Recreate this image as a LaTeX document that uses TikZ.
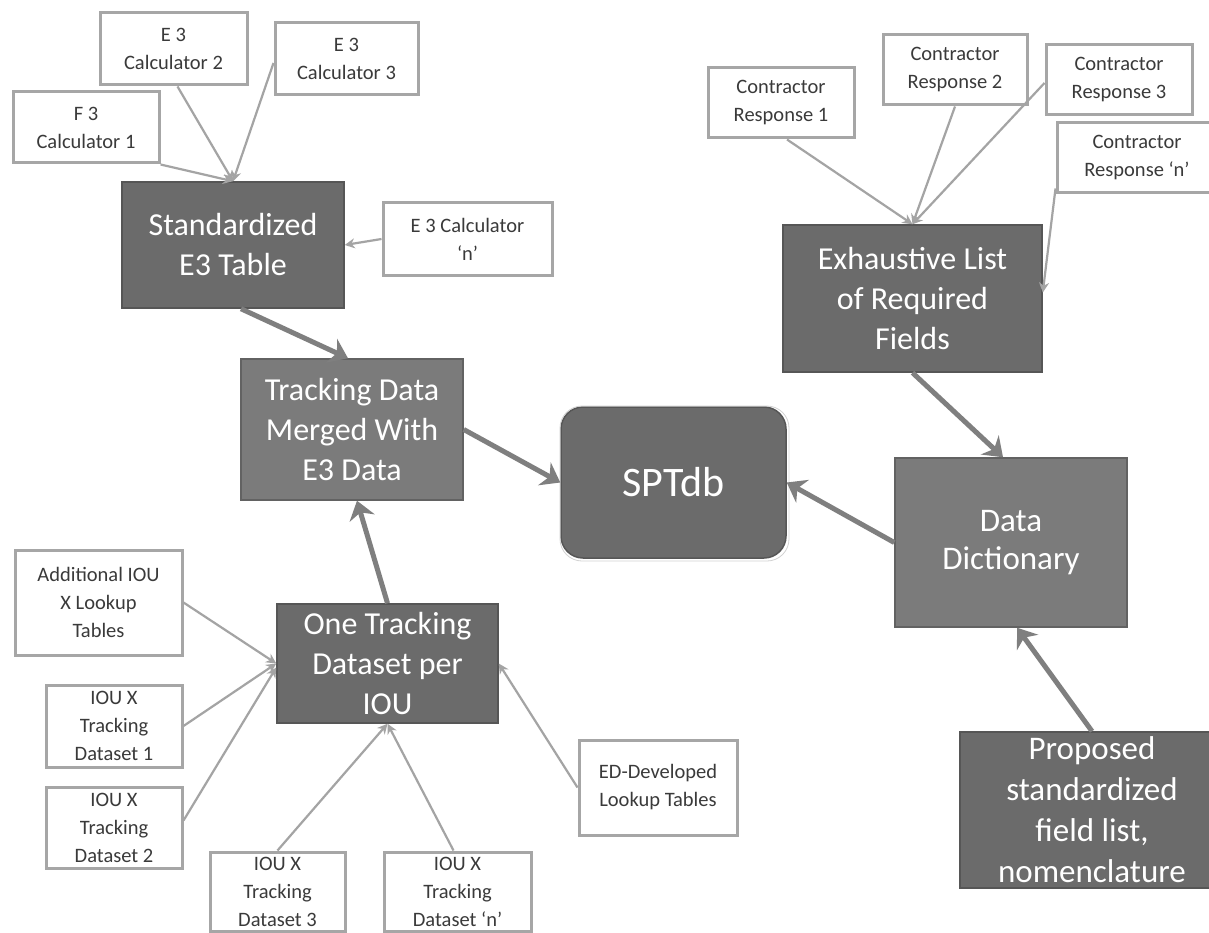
\documentclass[tikz,border=0pt]{standalone}
\usepackage{fontspec}
\setmainfont{Carlito}
\usetikzlibrary{arrows.meta}
\definecolor{darkfill}{HTML}{6B6B6B}
\definecolor{midfill}{HTML}{7B7B7B}
\definecolor{boxline}{HTML}{A6A6A6}
\definecolor{thinarrow}{HTML}{A4A4A4}
\definecolor{thickarrow}{HTML}{7F7F7F}
\definecolor{txt}{HTML}{3A3A3A}
\tikzset{
  inbox/.style={draw=boxline, line width=3pt, fill=white, text=txt, align=center,
    inner sep=0pt, font=\fontsize{20.5}{28}\selectfont},
  bigbox/.style={draw=darkfill!80!black, line width=1.5pt, fill=darkfill, text=white,
    align=center, inner sep=0pt, font=\fontsize{32}{40}\selectfont},
  midbox/.style={bigbox, fill=midfill, draw=midfill!80!black},
  inarrow/.style={draw=thinarrow, line width=2.2pt, -{Stealth[length=10pt,width=10pt]}},
  mainarrow/.style={draw=thickarrow, line width=5pt, -{Stealth[length=18pt,width=26pt]}}
}
\begin{document}
\begin{tikzpicture}[x=1pt,y=-1pt]
\useasboundingbox (0,0) rectangle (1209,933);
\fill[white] (0,0) rectangle (1209,933);

% E3 calculators
\node[inbox, minimum width=146pt, minimum height=71pt] (calc1) at (86,127.5) {F 3\\Calculator 1};
\node[inbox, minimum width=147pt, minimum height=72pt] (calc2) at (173.5,49) {E 3\\Calculator 2};
\node[inbox, minimum width=143pt, minimum height=72pt] (calc3) at (346.5,59) {E 3\\Calculator 3};
\node[inbox, minimum width=169pt, minimum height=72pt] (calcn) at (467.5,239) {E 3 Calculator\\‘n’};

\node[bigbox, minimum width=222pt, minimum height=126pt] (std) at (233,245) {Standardized\\E3 Table};
\node[midbox, minimum width=222pt, minimum height=141pt] (merged) at (352,429.5) {Tracking Data\\Merged With\\E3 Data};

\node[bigbox, rounded corners=22pt, minimum width=225pt, minimum height=151pt,
      font=\fontsize{42}{50}\selectfont] (spt) at (673.5,482.5) {SPTdb};
\draw[gray!35, line width=0.8pt, rounded corners=22pt] (560,406) rectangle (789,561);

\node[bigbox, minimum width=221pt, minimum height=119pt] (onetrack) at (387.5,663.5) {One Tracking\\Dataset per\\IOU};

\node[inbox, minimum width=167pt, minimum height=105pt] (addl) at (98.5,602.5) {Additional IOU\\X Lookup\\Tables};
\node[inbox, minimum width=136pt, minimum height=82pt] (ds1) at (114,726) {IOU X\\Tracking\\Dataset 1};
\node[inbox, minimum width=136pt, minimum height=81pt] (ds2) at (114,827.5) {IOU X\\Tracking\\Dataset 2};
\node[inbox, minimum width=135pt, minimum height=79pt] (ds3) at (277.5,891.5) {IOU X\\Tracking\\Dataset 3};
\node[inbox, minimum width=147pt, minimum height=79pt] (dsn) at (457.5,891.5) {IOU X\\Tracking\\Dataset ‘n’};
\node[inbox, minimum width=158pt, minimum height=95pt] (ed) at (658,787.5) {ED-Developed\\Lookup Tables};

% contractor responses
\node[inbox, minimum width=146pt, minimum height=70pt] (resp1) at (781,103) {Contractor\\Response 1};
\node[inbox, minimum width=144pt, minimum height=70pt] (resp2) at (955,70) {Contractor\\Response 2};
\node[inbox, minimum width=146pt, minimum height=70pt] (resp3) at (1119,80) {Contractor\\Response 3};
\node[inbox, minimum width=160pt, minimum height=70pt] (respn) at (1137,158) {Contractor\\Response ‘n’};

\node[bigbox, minimum width=259pt, minimum height=147pt] (exh) at (912.5,298.5) {Exhaustive List\\of Required\\Fields};
\node[midbox, minimum width=232pt, minimum height=169pt, font=\fontsize{33}{38}\selectfont] (dd) at (1011,542.5) {Data\\Dictionary};
\node[bigbox, minimum width=264pt, minimum height=156pt, font=\fontsize{33}{41}\selectfont] (prop) at (1092,810) {Proposed\\standardized\\field list,\\nomenclature};

% thin input arrows
\draw[inarrow] (calc1.south east) -- (std.north);
\draw[inarrow] ([xshift=4pt]calc2.south) -- (std.north);
\draw[inarrow] ([yshift=-4pt]calc3.west) -- (std.north);
\draw[inarrow] (calcn.west) -- (std.east);

\draw[inarrow] (addl.east) -- (onetrack.west);
\draw[inarrow] (ds1.east) -- (onetrack.west);
\draw[inarrow] ([yshift=7pt]ds2.east) -- ([yshift=-4pt]onetrack.west);
\draw[inarrow] (ds3.north) -- (onetrack.south);
\draw[inarrow] ([xshift=-4pt]dsn.north) -- (onetrack.south);
\draw[inarrow] (ed.west) -- (onetrack.east);

\draw[inarrow] ([xshift=6pt]resp1.south) -- (exh.north);
\draw[inarrow] (resp2.south) -- (exh.north);
\draw[inarrow] ([yshift=-3pt]resp3.west) -- (exh.north);
\draw[inarrow] ([yshift=6pt]respn.south west) -- ([yshift=6pt]exh.east);

% main flow arrows
\draw[mainarrow] ([xshift=8pt]std.south) -- ([xshift=-4pt]merged.north);
\draw[mainarrow] (merged.east) -- (spt.west);
\draw[mainarrow] (onetrack.north) -- ([xshift=5pt]merged.south);
\draw[mainarrow] (exh.south) -- ([xshift=-8pt]dd.north);
\draw[mainarrow] (dd.west) -- (spt.east);
\draw[mainarrow] (prop.north) -- ([xshift=6pt]dd.south);
\end{tikzpicture}
\end{document}
